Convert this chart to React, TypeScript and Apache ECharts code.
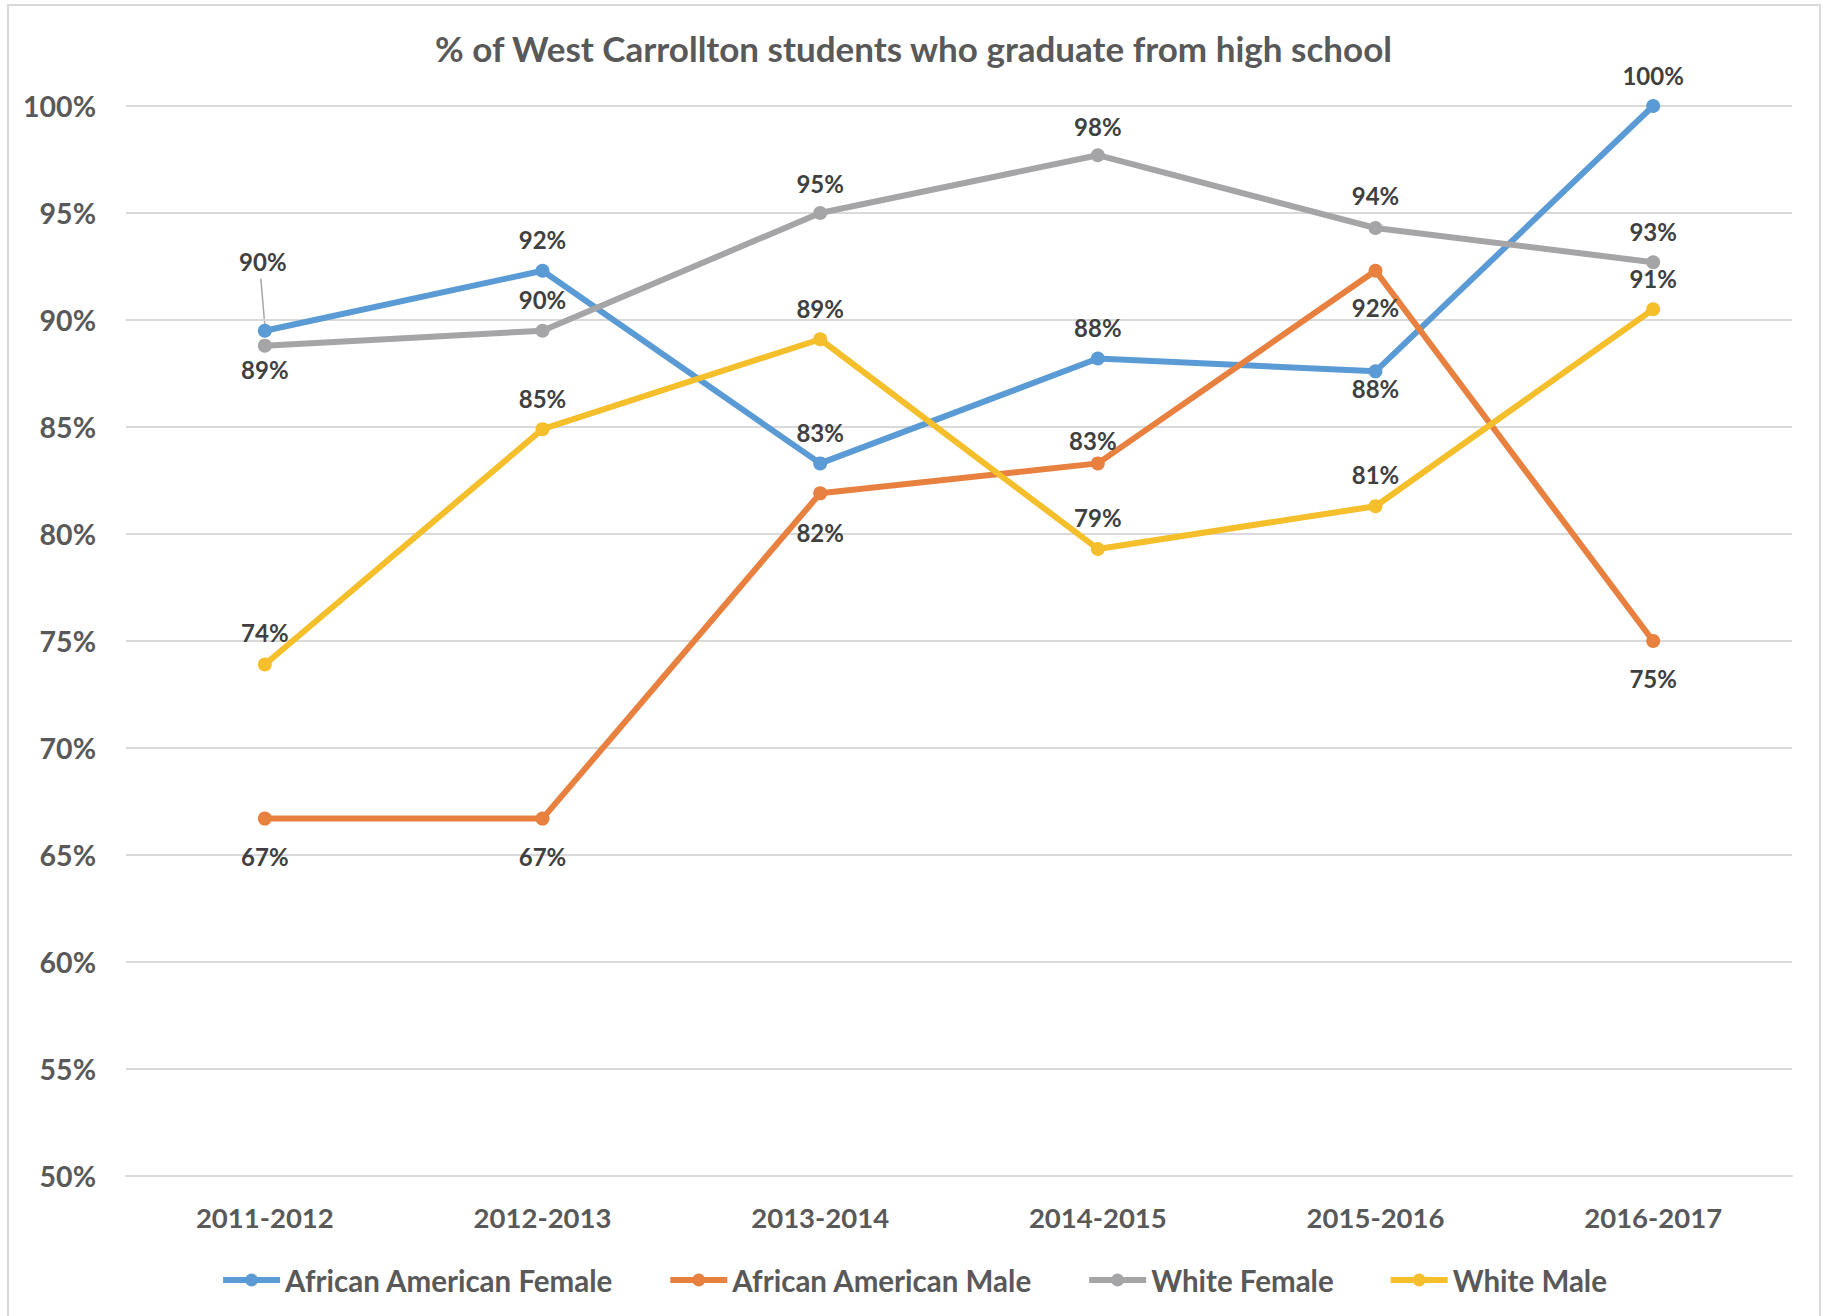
import React, { useEffect, useRef } from 'react';
import * as echarts from 'echarts';

// ---- data (percent) ----
const years = ['2011-2012', '2012-2013', '2013-2014', '2014-2015', '2015-2016', '2016-2017'];
const africanAmericanFemale = [89.5, 92.3, 83.3, 88.2, 87.6, 100.0];
const africanAmericanMale = [66.7, 66.7, 81.9, 83.3, 92.3, 75.0];
const whiteFemale = [88.8, 89.5, 95.0, 97.7, 94.3, 92.7];
const whiteMale = [73.9, 84.9, 89.1, 79.3, 81.3, 90.5];
const seriesNames = ['African American Female', 'African American Male', 'White Female', 'White Male'];
const yMin = 50;
const yMax = 100;
const yStep = 5;
const titleText = '% of West Carrollton students who graduate from high school';

// ---- styling ----
const colors = ['#5B9BD5', '#E8803F', '#A5A5A8', '#F5BE2B'];
const labelOffsets: number[][][] = [
  [[-2, -69], [0, -31], [0, -31], [0, -31], [0, 17], [0, -31]],
  [[0, 38], [0, 38], [0, 39], [-5, -23], [0, 37], [0, 37]],
  [[0, 24], [0, -31], [0, -30], [0, -29], [0, -32], [0, -31]],
  [[0, -32], [0, -31], [0, -31], [0, -31], [0, -32], [0, -31]],
];
const FONT = 'Lato, "Open Sans", sans-serif';

export default function App() {
  const ref = useRef<HTMLDivElement>(null);
  useEffect(() => {
    if (!ref.current) return;
    const chart = echarts.init(ref.current, undefined, { renderer: 'svg' });
    const allData = [africanAmericanFemale, africanAmericanMale, whiteFemale, whiteMale];
    const series = allData.map((vals, si) => ({
      name: seriesNames[si],
      type: 'line',
      data: vals.map((v, i) => ({
        value: v,
        label: { offset: labelOffsets[si][i] },
      })),
      symbol: 'circle',
      symbolSize: 14,
      lineStyle: { width: 6, color: colors[si] },
      itemStyle: { color: colors[si] },
      label: {
        show: true,
        position: 'inside',
        formatter: (p: any) => Math.round(p.value) + '%',
        fontFamily: FONT,
        fontWeight: 'bold',
        fontSize: 24,
        color: '#404040',
      },
      emphasis: { disabled: true },
    }));
    chart.setOption({
      animation: false,
      backgroundColor: '#ffffff',
      color: colors,
      title: {
        text: titleText,
        left: 'center',
        top: 25,
        textStyle: { fontFamily: FONT, fontWeight: 'bold', fontSize: 35, color: '#595959' },
      },
      grid: { left: 126, right: 35, top: 106, bottom: 140, containLabel: false },
      xAxis: {
        type: 'category',
        data: years,
        boundaryGap: true,
        axisLine: { show: true, lineStyle: { color: '#D9D9D9', width: 2 } },
        axisTick: { show: false },
        axisLabel: { fontFamily: FONT, fontWeight: 'bold', fontSize: 27.5, color: '#595959', margin: 27 },
      },
      yAxis: {
        type: 'value',
        min: yMin,
        max: yMax,
        interval: yStep,
        axisLine: { show: false },
        axisTick: { show: false },
        splitLine: { lineStyle: { color: '#D9D9D9', width: 2 } },
        axisLabel: {
          fontFamily: FONT,
          fontWeight: 'bold',
          fontSize: 28.5,
          color: '#595959',
          margin: 30,
          formatter: '{value}%',
        },
      },
      legend: {
        data: seriesNames,
        left: 'center',
        top: 1260,
        itemWidth: 57,
        itemHeight: 16,
        itemGap: 54,
        lineStyle: { width: 6 },
        textStyle: { fontFamily: FONT, fontWeight: 'bold', fontSize: 29.5, color: '#595959' },
      },
      graphic: [
        {
          id: 'border',
          type: 'rect',
          shape: { x: 8, y: 5, width: 1812, height: 1330 },
          style: { fill: 'none', stroke: '#D9D9D9', lineWidth: 2 },
          silent: true,
        },
      ],
      series,
    });
    const pt = chart.convertToPixel({ seriesIndex: 0 }, [0, africanAmericanFemale[0]]) as number[];
    if (pt) {
      chart.setOption({
        graphic: [
          {
            id: 'leader',
            type: 'line',
            shape: { x1: pt[0] - 4, y1: pt[1] - 52, x2: pt[0], y2: pt[1] - 5 },
            style: { stroke: '#A6A6A6', lineWidth: 1.5 },
            silent: true,
          },
        ],
      });
    }
    return () => chart.dispose();
  }, []);
  return (
    <div
      ref={ref}
      style={{ position: 'fixed', left: 0, top: 0, width: 1827, height: 1316, background: '#fff' }}
    />
  );
}
